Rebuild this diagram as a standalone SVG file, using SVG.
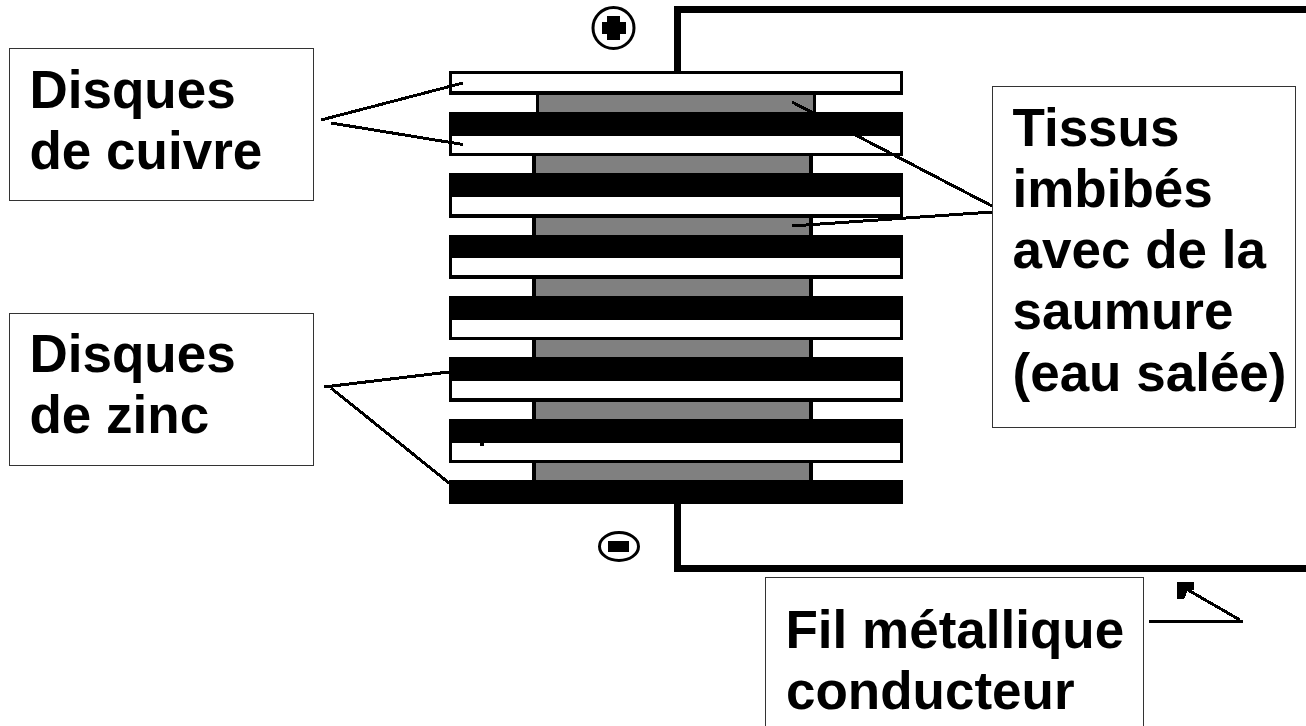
<svg xmlns="http://www.w3.org/2000/svg" width="1306" height="726" viewBox="0 0 1306 726">
<style>
.k{fill:#000;shape-rendering:crispEdges}
.g{fill:#808080;shape-rendering:crispEdges}
.w{fill:#fff;shape-rendering:crispEdges}
.box{fill:#fff;stroke:#333;stroke-width:1;shape-rendering:crispEdges}
.t{font-family:"Liberation Sans",Arial,sans-serif;font-weight:700;font-size:53px;fill:#000}
.l{fill:none;stroke:#000;stroke-width:3;shape-rendering:crispEdges}
</style>
<rect width="1306" height="726" fill="#fff"/>
<g id="wire-top"><path class="k" d="M674 6H1306V13H681V71H674Z"/></g>
<g id="wire-bottom"><path class="k" d="M674 504H681V565H1306V572H674Z"/></g>
<g id="tissues">
<path class="k" d="M536 95h280v17h-280z"/><rect class="g" x="539" y="95" width="274" height="17"/>
<path class="k" d="M532 156h281v17h-281z"/><rect class="g" x="536" y="156" width="273" height="17"/>
<path class="k" d="M532 218h281v17h-281z"/><rect class="g" x="536" y="218" width="273" height="17"/>
<path class="k" d="M532 279h281v17h-281z"/><rect class="g" x="536" y="279" width="273" height="17"/>
<path class="k" d="M532 340h281v17h-281z"/><rect class="g" x="536" y="340" width="273" height="17"/>
<path class="k" d="M532 402h281v17h-281z"/><rect class="g" x="536" y="402" width="273" height="17"/>
<path class="k" d="M532 463h281v17h-281z"/><rect class="g" x="536" y="463" width="273" height="17"/>
</g>
<g id="copper-discs">
<rect class="k" x="449" y="71" width="454" height="24"/><rect class="w" x="452" y="74" width="448" height="17"/>
<rect class="k" x="449" y="136" width="454" height="20"/><rect class="w" x="452" y="136" width="448" height="17"/>
<rect class="k" x="449" y="197" width="454" height="21"/><rect class="w" x="452" y="197" width="448" height="17"/>
<rect class="k" x="449" y="258" width="454" height="21"/><rect class="w" x="452" y="258" width="448" height="17"/>
<rect class="k" x="449" y="320" width="454" height="20"/><rect class="w" x="452" y="320" width="448" height="17"/>
<rect class="k" x="449" y="381" width="454" height="21"/><rect class="w" x="452" y="381" width="448" height="17"/>
<rect class="k" x="449" y="443" width="454" height="20"/><rect class="w" x="452" y="443" width="448" height="17"/>
</g>
<g id="zinc-discs">
<rect class="k" x="449" y="112" width="454" height="24"/>
<rect class="k" x="449" y="173" width="454" height="24"/>
<rect class="k" x="449" y="235" width="454" height="23"/>
<rect class="k" x="449" y="296" width="454" height="24"/>
<rect class="k" x="449" y="357" width="454" height="24"/>
<rect class="k" x="449" y="419" width="454" height="24"/>
<rect class="k" x="449" y="480" width="454" height="24"/>
</g>
<g id="plus"><circle cx="613.500" cy="28" r="20.500" fill="#fff" stroke="#000" stroke-width="3"/><path class="k" d="M607 16h13v6h6v12h-6v6h-13v-6h-5v-12h5z"/></g>
<g id="minus"><ellipse cx="619" cy="546.500" rx="19.500" ry="14" fill="#fff" stroke="#000" stroke-width="3"/><rect class="k" x="608" y="541" width="21" height="11"/></g>
<g id="connectors">
<path class="l" d="M321 120L463 83M331 123L463 144.500"/>
<path class="l" d="M792 102L992 206M792 226L992 212"/>
<path class="l" d="M324 387L449 372M331 388L449 483"/>
<rect class="k" x="480" y="443" width="4" height="3"/>
<path class="l" d="M1149 621H1243M1188 590L1240 620"/>
<path class="k" d="M1177 582H1194V590H1188L1184 599H1177Z"/>
</g>
<g id="label-copper"><rect class="box" x="9.500" y="48.500" width="304" height="152"/><text class="t" x="29.500" y="107.500">Disques</text><text class="t" x="29.500" y="168.500">de cuivre</text></g>
<g id="label-zinc"><rect class="box" x="9.500" y="313.500" width="304" height="152"/><text class="t" x="29.500" y="371.500">Disques</text><text class="t" x="29.500" y="432.500">de zinc</text></g>
<g id="label-tissue"><rect class="box" x="992.500" y="86.500" width="303" height="341"/><text class="t" x="1012.500" y="145.500">Tissus</text><text class="t" x="1012.500" y="206.500">imbibés</text><text class="t" x="1012.500" y="267.500">avec de la</text><text class="t" x="1012.500" y="328.500">saumure</text><text class="t" x="1012.500" y="390.500">(eau salée)</text></g>
<g id="label-wire"><rect class="box" x="765.500" y="577.500" width="378" height="160"/><text class="t" x="785.500" y="647.500">Fil métallique</text><text class="t" x="786" y="708.500">conducteur</text></g>
</svg>
